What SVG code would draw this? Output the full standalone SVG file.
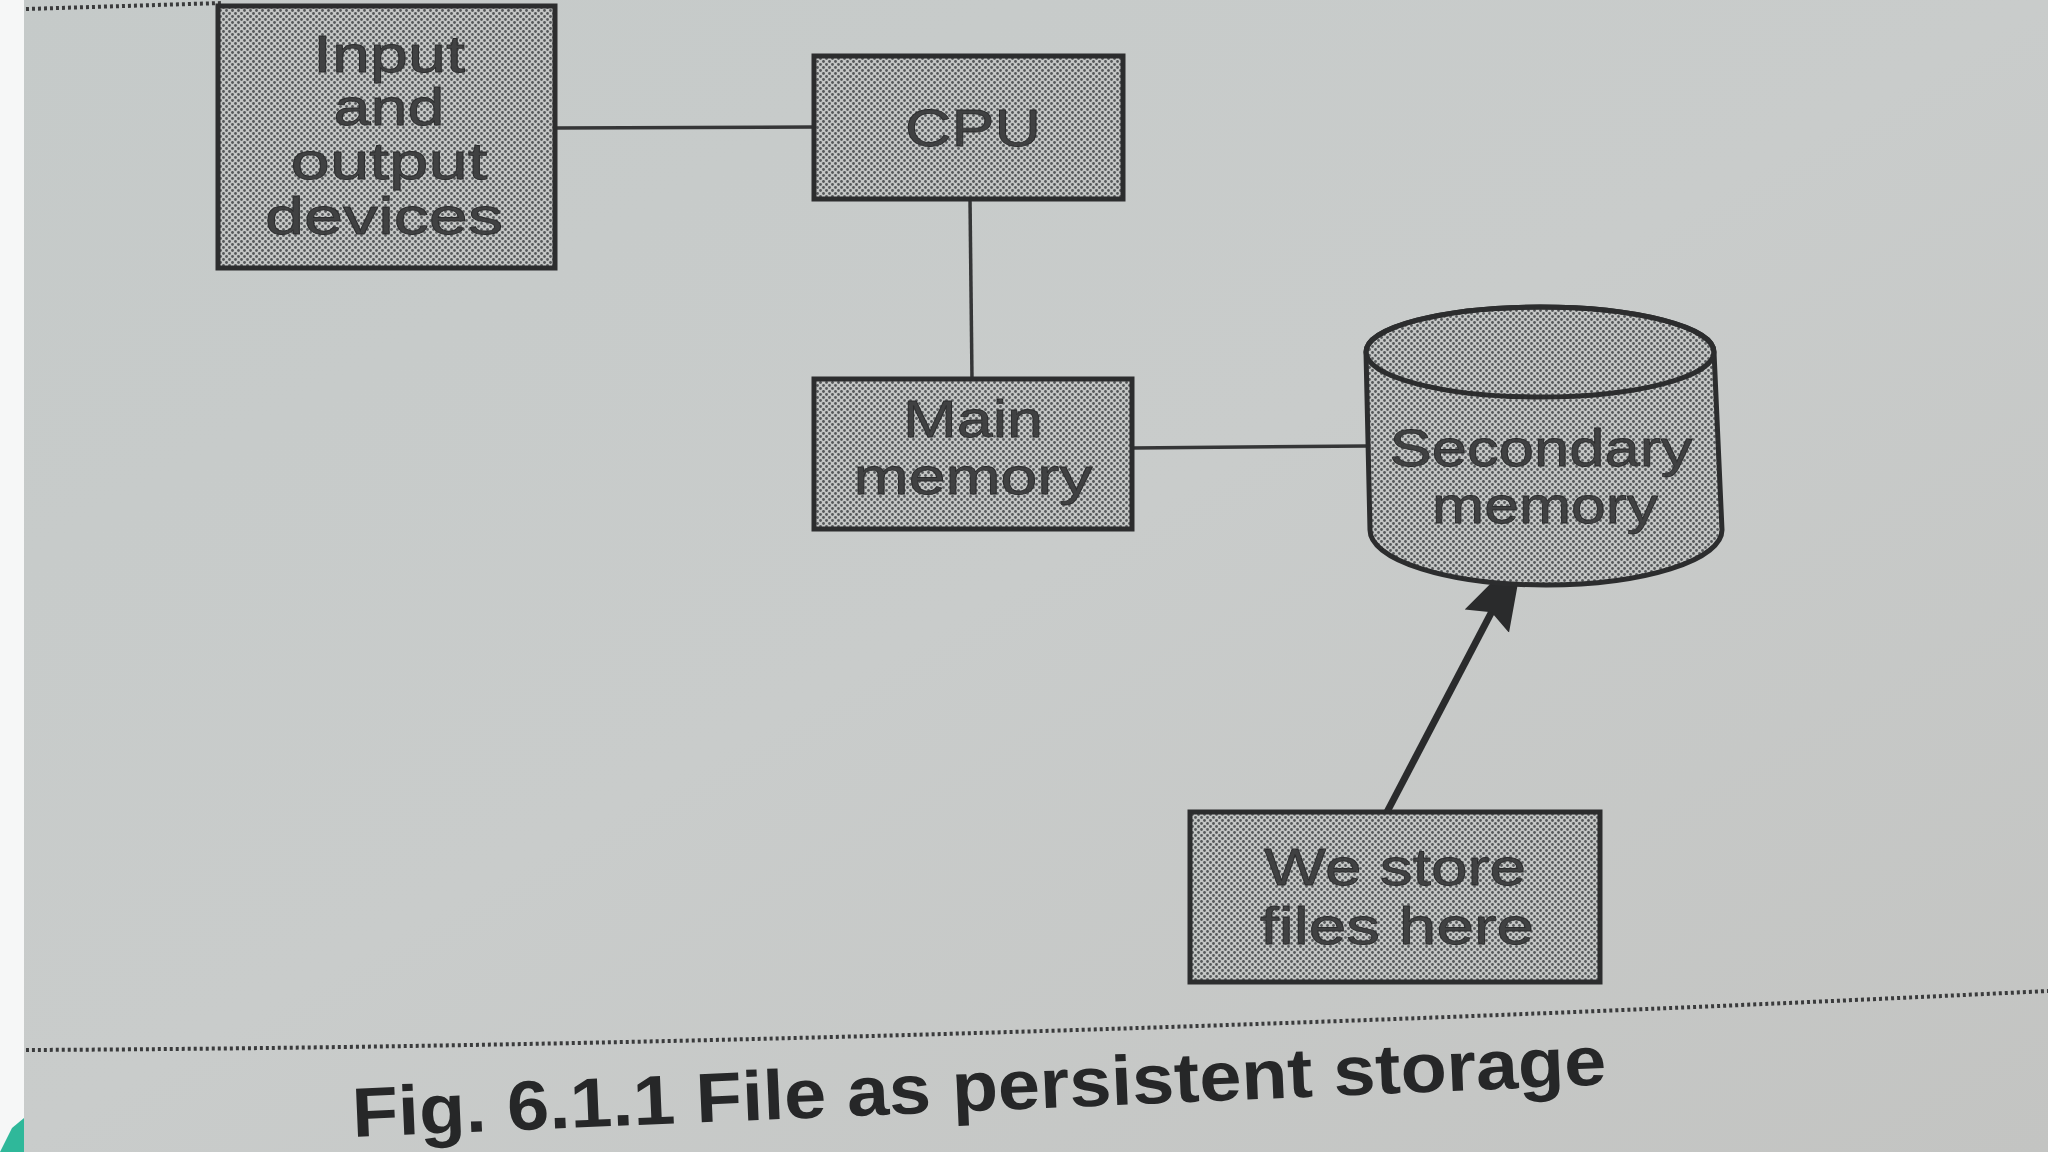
<svg xmlns="http://www.w3.org/2000/svg" width="2048" height="1152" viewBox="0 0 2048 1152">
<defs>
  <linearGradient id="bg" x1="0" y1="0" x2="1" y2="1">
    <stop offset="0" stop-color="#c5cac9"/>
    <stop offset="0.5" stop-color="#c9cccb"/>
    <stop offset="1" stop-color="#c3c4c2"/>
  </linearGradient>
  <pattern id="dots" width="6" height="6" patternUnits="userSpaceOnUse">
    <rect width="6" height="6" fill="#c4c6c5"/>
    <circle cx="1.5" cy="1.5" r="1.4" fill="#55585a"/>
    <circle cx="4.5" cy="4.5" r="1.4" fill="#55585a"/>
  </pattern>
  <marker id="arrow" viewBox="0 0 80 56" refX="78" refY="28" markerWidth="80" markerHeight="56" markerUnits="userSpaceOnUse" orient="auto">
    <path d="M0,3 L80,28 L0,53 L10,28 Z" fill="#2a2b2c"/>
  </marker>
  <style>
    .box { fill: url(#dots); stroke: #2c2d2e; stroke-width: 5; }
    .lbl { font-family: "Liberation Sans", Arial, sans-serif; font-size: 52px; fill: #404142; text-anchor: middle; stroke: #2c2d2e; stroke-width: 0.8; }
    .conn { stroke: #353637; stroke-width: 3.5; fill: none; }
    .dotline { stroke: #3a3b3c; stroke-width: 4; stroke-dasharray: 3 3; fill: none; }
    .cap { font-family: "Liberation Sans", Arial, sans-serif; font-weight: bold; font-size: 70px; fill: #262728; }
  </style>
</defs>
<rect x="0" y="0" width="2048" height="1152" fill="url(#bg)"/>
<rect x="0" y="0" width="24" height="1152" fill="#f6f7f7"/>
<path d="M0,1152 L12,1128 L24,1118 L24,1152 Z" fill="#2fb89a"/>
<path class="dotline" d="M26,9 L222,3"/>
<path class="dotline" d="M26,1050 Q900,1046 2048,991"/>

<g id="connectors">
  <line class="conn" x1="555" y1="128" x2="814" y2="127"/>
  <line class="conn" x1="970" y1="199" x2="972" y2="379"/>
  <line class="conn" x1="1132" y1="448" x2="1367" y2="446"/>
  <line x1="1387" y1="812" x2="1523" y2="552" stroke="#2a2b2c" stroke-width="7" marker-end="url(#arrow)"/>
</g>

<g id="node-io">
  <rect class="box" x="218" y="6" width="337" height="262"/>
  <text class="lbl" x="389" y="72" textLength="152" lengthAdjust="spacingAndGlyphs">Input</text>
  <text class="lbl" x="389" y="125" textLength="111" lengthAdjust="spacingAndGlyphs">and</text>
  <text class="lbl" x="389" y="179" textLength="197" lengthAdjust="spacingAndGlyphs">output</text>
  <text class="lbl" x="384" y="234" textLength="238" lengthAdjust="spacingAndGlyphs">devices</text>
</g>

<g id="node-cpu">
  <rect class="box" x="814" y="56" width="309" height="143"/>
  <text class="lbl" x="973" y="146" textLength="136" lengthAdjust="spacingAndGlyphs">CPU</text>
</g>

<g id="node-main">
  <rect class="box" x="814" y="379" width="318" height="150"/>
  <text class="lbl" x="973" y="437" textLength="140" lengthAdjust="spacingAndGlyphs">Main</text>
  <text class="lbl" x="973" y="494" textLength="239" lengthAdjust="spacingAndGlyphs">memory</text>
</g>

<g id="node-secondary">
  <path class="box" d="M1366,352 L1370,530 A176,55 0 0 0 1722,530 L1714,352 A174,45 0 0 0 1366,352 Z"/>
  <ellipse cx="1540" cy="352" rx="174" ry="45" fill="none" stroke="#2c2d2e" stroke-width="5"/>
  <text class="lbl" x="1541" y="466" textLength="303" lengthAdjust="spacingAndGlyphs">Secondary</text>
  <text class="lbl" x="1545" y="523" textLength="226" lengthAdjust="spacingAndGlyphs">memory</text>
</g>

<g id="node-files">
  <rect class="box" x="1190" y="812" width="410" height="170"/>
  <text class="lbl" x="1395" y="885" textLength="262" lengthAdjust="spacingAndGlyphs">We store</text>
  <text class="lbl" x="1397" y="944" textLength="274" lengthAdjust="spacingAndGlyphs">files here</text>
</g>

<text class="cap" x="353" y="1137" textLength="1255" lengthAdjust="spacingAndGlyphs" transform="rotate(-2.4 353 1137)">Fig. 6.1.1 File as persistent storage</text>
</svg>
